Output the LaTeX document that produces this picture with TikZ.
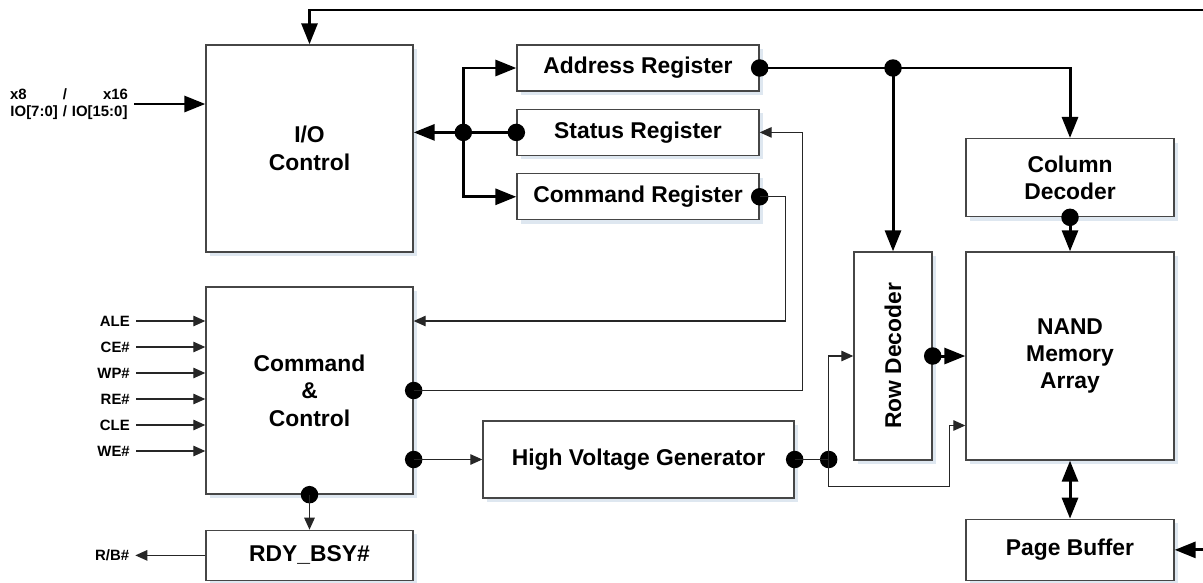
\documentclass[tikz,border=0pt]{standalone}
\usepackage{fontspec}
\setmainfont{Liberation Sans}
\usetikzlibrary{positioning, arrows.meta, shadows}
\definecolor{boxline}{RGB}{70,70,70}
\definecolor{shadowblue}{RGB}{222,231,240}

\begin{document}
\begin{tikzpicture}[
        x=0.02cm, y=-0.02cm,
        % Blocs
        block/.style={
            draw=boxline,
            line width=0.8pt,
            fill=white,
            align=center,
            inner sep=2pt,
            font=\fontsize{13}{15.6}\selectfont\bfseries,
            drop shadow={shadow xshift=0.08cm, shadow yshift=-0.08cm, fill=shadowblue, opacity=1}
        },
        % Noms des signaux
        siglabel/.style={
            font=\fontsize{8.5}{9.5}\selectfont\bfseries
        },
        % Points de connexion
        dot/.style={
            circle,
            fill=black,
            inner sep=0pt,
            minimum size=0.35cm
        },
        % Liaisons
        bus/.style={line width=1.7pt, black},
        busarrow/.style={bus, -{Triangle[length=0.42cm, width=0.32cm]}},
        wire/.style={line width=0.7pt, black!85},
        wirearrow/.style={wire, -{Triangle[length=0.24cm, width=0.21cm]}}
    ]

    \useasboundingbox (0,0) rectangle (1203,582);

    % Blocs de gauche
    \node[block, minimum width=4.14cm, minimum height=4.14cm] (io) at (309.5,148.5) {I/O\\Control};
    \node[block, minimum width=4.14cm, minimum height=4.14cm] (cc) at (309.5,390.5) {Command\\\&\\Control};
    \node[block, minimum width=4.14cm, minimum height=1.0cm, below=0.7cm of cc] (rdy) {RDY\_BSY\#};

    % Registres
    \node[block, minimum width=4.84cm, minimum height=0.92cm] (addr) at (638,68) {Address Register};
    \node[block, minimum width=4.84cm, minimum height=0.92cm, below=0.34cm of addr] (stat) {Status Register};
    \node[block, minimum width=4.84cm, minimum height=0.92cm, below=0.34cm of stat] (cmdreg) {Command Register};
    \node[block, minimum width=6.22cm, minimum height=1.54cm] (hvg) at (638.5,459.5) {High Voltage Generator};

    % Matrice et décodeurs
    \node[block, minimum width=4.16cm, minimum height=4.16cm] (nand) at (1070,356) {NAND\\Memory\\Array};
    \node[block, minimum width=4.16cm, minimum height=1.56cm, above=0.68cm of nand] (coldec) {Column\\Decoder};
    \node[block, minimum width=1.56cm, minimum height=4.16cm] (rowdec) at (893,356) {};
    \node[rotate=90, font=\fontsize{13}{15.6}\selectfont\bfseries] (rowtxt) at (rowdec.center) {Row Decoder};
    \node[block, minimum width=4.16cm, minimum height=1.22cm, below=1.16cm of nand] (pbuf) {Page Buffer};

    % Entrées
    \node[siglabel, align=center, text width=2.36cm] (iolbl) at (69,104) {x8\hfill/\hfill x16\\IO[7:0] / IO[15:0]};
    \draw[busarrow] (iolbl.east) -- (iolbl.east -| io.west);

    \node[siglabel, anchor=east] (ale) at (136,321) {ALE};
    \node[siglabel, anchor=east] (ce) at (136,347) {CE\#};
    \node[siglabel, anchor=east] (wp) at (136,373) {WP\#};
    \node[siglabel, anchor=east] (re) at (136,399) {RE\#};
    \node[siglabel, anchor=east] (cle) at (136,425) {CLE};
    \node[siglabel, anchor=east] (we) at (136,451) {WE\#};
    \draw[wirearrow] (ale) -- (ale -| cc.west);
    \draw[wirearrow] (ce) -- (ce -| cc.west);
    \draw[wirearrow] (wp) -- (wp -| cc.west);
    \draw[wirearrow] (re) -- (re -| cc.west);
    \draw[wirearrow] (cle) -- (cle -| cc.west);
    \draw[wirearrow] (we) -- (we -| cc.west);

    \node[siglabel, left=1.4cm of rdy] (rb) {R/B\#};
    \draw[wirearrow] (rdy.west) -- (rb.east);

    % Boucle du haut
    \coordinate (loopR) at (1203,10);
    \draw[busarrow] (loopR) -- (loopR -| io.north) -- (io.north);

    % Bus des registres
    \node[dot] (dstat) at (stat.west) {};
    \node[dot] (jio) at ([xshift=-1.06cm]stat.west) {};
    \draw[bus] (dstat.center) -- (jio.center);
    \draw[busarrow] (jio.center) -- (jio -| io.east);
    \draw[busarrow] (jio.center) |- (addr.west);
    \draw[busarrow] (jio.center) |- (cmdreg.west);

    % Adresse vers les décodeurs
    \node[dot] (daddr) at (addr.east) {};
    \node[dot] (jaddr) at (rowdec.north |- addr.east) {};
    \draw[bus] (daddr.center) -- (jaddr.center);
    \draw[busarrow] (jaddr.center) -- (rowdec.north);
    \draw[busarrow] (jaddr.center) -| (coldec.north);

    \node[dot] (dcol) at (coldec.south) {};
    \draw[busarrow] (dcol.center) -- (nand.north);
    \node[dot] (drow) at (rowdec.east) {};
    \draw[busarrow] (drow.center) -- (nand.west |- drow);

    % Commande et contrôle
    \node[dot] (dcmd) at (cmdreg.east) {};
    \draw[wirearrow] (dcmd.center) -- ++(26,0) |- ([yshift=1.39cm]cc.east);
    \node[dot] (dcc1) at (cc.east) {};
    \draw[wirearrow] (dcc1.center) -- ++(389,0) |- (stat.east);
    \node[dot] (dcc2) at (cc.east |- hvg.west) {};
    \draw[wirearrow] (dcc2.center) -- (hvg.west);
    \node[dot] (dcc3) at (cc.south) {};
    \draw[wirearrow] (dcc3.center) -- (rdy.north);

    % Haute tension
    \node[dot] (dhv) at (hvg.east) {};
    \node[dot] (jhv) at ([xshift=0.68cm]hvg.east) {};
    \draw[wire] (dhv.center) -- (jhv.center);
    \draw[wirearrow] (jhv.center) |- (rowdec.west);
    \draw[wirearrow] (jhv.center) -- ++(0,27) -- ++(121,0) |- ([yshift=-1.39cm]nand.west);

    % Tampon de page
    \draw[bus, {Triangle[length=0.42cm, width=0.32cm]}-{Triangle[length=0.42cm, width=0.32cm]}] (nand.south) -- (pbuf.north);
    \coordinate (pbR) at (pbuf.east -| loopR);
    \draw[busarrow] (pbR) -- (pbuf.east);

\end{tikzpicture}
\end{document}
